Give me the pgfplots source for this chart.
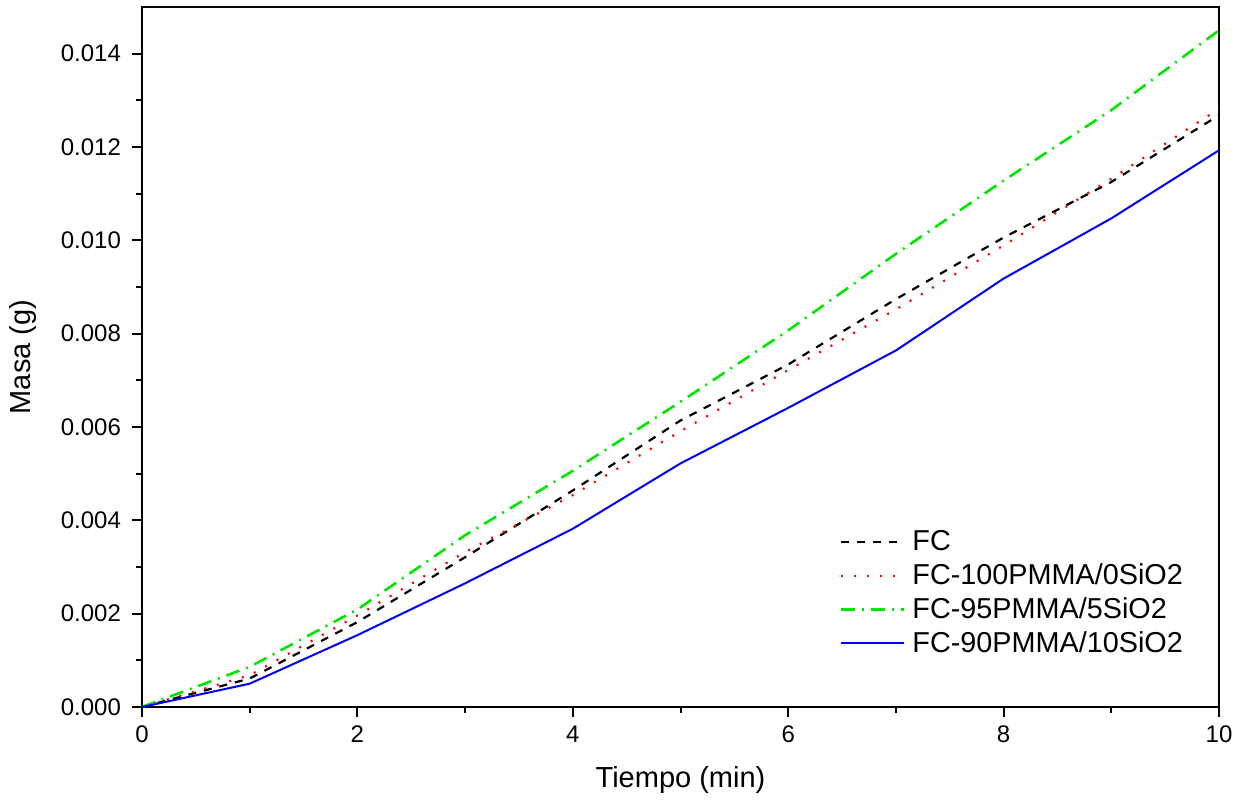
\documentclass[border=0pt]{standalone}
\usepackage{fontspec}
\setmainfont{Liberation Sans}
\usepackage{pgfplots}
\pgfplotsset{compat=1.18}
\begin{document}
\begin{tikzpicture}
\begin{axis}[
  name=ax,
  scale only axis,
  width=538.5pt, height=350pt,
  xmin=0, xmax=10, ymin=0, ymax=0.015,
  xtick={0,2,4,6,8,10},
  minor xtick={1,3,5,7,9},
  ytick={0,0.002,0.004,0.006,0.008,0.010,0.012,0.014},
  minor ytick={0.001,0.003,0.005,0.007,0.009,0.011,0.013},
  scaled y ticks=false,
  yticklabel style={xshift=-2pt, /pgf/number format/.cd, fixed, fixed zerofill, precision=3, assume math mode=true},
  xticklabel style={yshift=-1pt, /pgf/number format/assume math mode=true},
  tick label style={font=\fontsize{12}{14}\selectfont},
  label style={font=\fontsize{14.5}{16}\selectfont},
  tick align=outside,
  xtick pos=bottom, ytick pos=left,
  major tick length=5pt, minor tick length=2.75pt,
  every tick/.style={black, line width=1pt},
  axis line style={line width=1.3pt},
  xlabel={Tiempo (min)}, ylabel={Masa (g)},
  xlabel style={yshift=-5pt},
  ylabel style={yshift=5.5pt},
  legend style={draw=none, fill=none, at={(rel axis cs:0.642,0.264)}, anchor=north west,
    font=\fontsize{14.4}{16}\selectfont, row sep=1pt, column sep=1.5pt},
  legend cell align=left,
  legend image code/.code={\draw[#1] (0pt,0pt) -- (31.5pt,0pt);},
]
\addplot[black, line width=1.1pt, dash pattern=on 4pt off 4pt] coordinates {
(0,0) (1,0.00061) (2,0.00182) (3,0.00321) (4,0.00464) (5,0.00614) (6,0.00734) (7,0.00874) (8,0.01006) (9,0.01125) (10,0.01268)};
\addlegendentry{FC}
\addplot[red, line width=1.1pt, dash pattern=on 1pt off 5.5pt] coordinates {
(0,0) (1,0.00068) (2,0.00196) (3,0.00332) (4,0.00454) (5,0.00591) (6,0.00722) (7,0.00852) (8,0.00989) (9,0.01132) (10,0.01282)};
\addlegendentry{FC-100PMMA/0SiO2}
\addplot[color={rgb,255:red,0;green,230;blue,0}, line width=1.3pt, dash pattern=on 7pt off 3.5pt on 1pt off 3.5pt] coordinates {
(0,0) (1,0.00086) (2,0.00209) (3,0.00368) (4,0.00506) (5,0.00654) (6,0.00807) (7,0.00971) (8,0.01128) (9,0.01279) (10,0.0145)};
\addlegendentry{FC-95PMMA/5SiO2}
\addplot[color={rgb,255:red,0;green,0;blue,240}, line width=1pt] coordinates {
(0,0) (1,0.0005) (2,0.00154) (3,0.00265) (4,0.00382) (5,0.00522) (6,0.00641) (7,0.00764) (8,0.00918) (9,0.01047) (10,0.01193)};
\addlegendentry{FC-90PMMA/10SiO2}
\end{axis}
\path (ax.south west) ++(-71pt,-45pt) coordinate (a);
\path (ax.north east) ++(13.5pt,3.5pt) coordinate (b);
\path (a) rectangle (b);
\end{tikzpicture}
\end{document}
